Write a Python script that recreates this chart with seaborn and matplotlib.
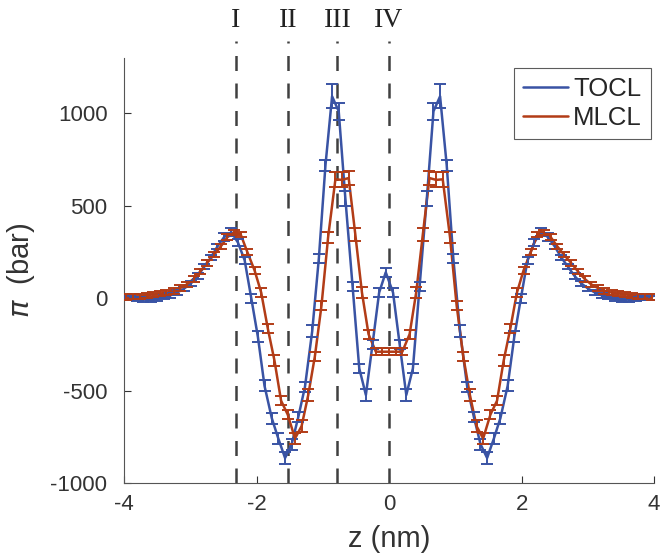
import pandas as pd
import seaborn as sns
import matplotlib.pyplot as plt

# z positions (nm) of the TOCL and MLCL profiles
z_tocl = [-4.01, -3.91, -3.81, -3.71, -3.60, -3.50, -3.40, -3.30, -3.20, -3.10,
          -2.99, -2.89, -2.79, -2.69, -2.59, -2.49, -2.38, -2.28, -2.18, -2.08,
          -1.98, -1.88, -1.77, -1.67, -1.57, -1.47, -1.37, -1.27, -1.16, -1.06,
          -0.96, -0.86, -0.76, -0.66, -0.55, -0.45, -0.35, -0.25, -0.15, -0.05,
          0.06, 0.16, 0.26, 0.36, 0.46, 0.57, 0.67, 0.77, 0.87, 0.97,
          1.07, 1.18, 1.28, 1.38, 1.48, 1.58, 1.68, 1.79, 1.89, 1.99,
          2.09, 2.19, 2.29, 2.40, 2.50, 2.60, 2.70, 2.80, 2.90, 3.01,
          3.11, 3.21, 3.31, 3.41, 3.51, 3.62, 3.72, 3.82, 3.92]
z_mlcl = [-3.97, -3.86, -3.76, -3.66, -3.56, -3.46, -3.36, -3.25, -3.15, -3.05,
          -2.95, -2.85, -2.75, -2.64, -2.54, -2.44, -2.34, -2.24, -2.14, -2.03,
          -1.93, -1.83, -1.73, -1.63, -1.53, -1.42, -1.32, -1.22, -1.12, -1.02,
          -0.92, -0.81, -0.71, -0.61, -0.51, -0.41, -0.31, -0.20, -0.10, 0.00,
          0.10, 0.20, 0.31, 0.41, 0.51, 0.61, 0.71, 0.81, 0.92, 1.02,
          1.12, 1.22, 1.32, 1.42, 1.53, 1.63, 1.73, 1.83, 1.93, 2.03,
          2.14, 2.24, 2.34, 2.44, 2.54, 2.64, 2.75, 2.85, 2.95, 3.05,
          3.15, 3.25, 3.36, 3.46, 3.56, 3.66, 3.76, 3.86, 3.97]

# lateral pressure (bar) and error bars
tocl = [0, 0, -5, -8, -10, -5, 5, 15, 30, 50,
        80, 120, 170, 220, 280, 330, 357, 300, 205, 0,
        -210, -475, -650, -762, -865, -790, -643, -481, -178, 215,
        720, 1092, 1011, 540, 61, -380, -524, -250, 30, 140,
        30, -250, -524, -380, 61, 540, 1011, 1092, 720, 215,
        -178, -481, -643, -790, -865, -762, -650, -475, -210, 0,
        205, 300, 357, 330, 280, 220, 170, 120, 80, 50,
        30, 15, 5, -5, -10, -8, -5, 0, 0]
tocl_err = [12, 12, 12, 12, 12, 12, 12, 12, 12, 12,
            15, 15, 15, 15, 15, 20, 20, 20, 20, 25,
            30, 30, 30, 30, 30, 30, 25, 25, 30, 25,
            30, 65, 45, 40, 25, 25, 30, 25, 25, 25,
            25, 25, 30, 25, 25, 40, 45, 65, 30, 25,
            30, 25, 25, 30, 30, 30, 30, 30, 30, 25,
            20, 20, 20, 20, 15, 15, 15, 15, 15, 12,
            12, 12, 12, 12, 12, 12, 12, 12, 12]

mlcl = [5, 10, 10, 15, 20, 25, 30, 40, 55, 75,
        105, 145, 190, 235, 280, 330, 355, 345, 250, 150,
        30, -165, -338, -555, -630, -760, -692, -524, -315, -40,
        330, 643, 640, 650, 346, 32, -195, -290, -290, -290,
        -290, -290, -195, 32, 346, 650, 640, 643, 330, -40,
        -315, -524, -692, -760, -630, -555, -338, -165, 30, 150,
        250, 345, 355, 330, 280, 235, 190, 145, 105, 75,
        55, 40, 30, 25, 20, 15, 10, 10, 5]
mlcl_err = [15, 15, 15, 15, 15, 15, 15, 15, 15, 15,
            15, 15, 15, 15, 15, 15, 15, 15, 15, 20,
            25, 25, 30, 25, 25, 30, 30, 30, 25, 25,
            30, 40, 40, 40, 35, 30, 25, 20, 20, 20,
            20, 20, 25, 30, 35, 40, 40, 40, 30, 25,
            25, 30, 30, 30, 25, 25, 30, 25, 25, 20,
            15, 15, 15, 15, 15, 15, 15, 15, 15, 15,
            15, 15, 15, 15, 15, 15, 15, 15, 15]

region_labels = ['I', 'II', 'III', 'IV']
region_z = [-2.31, -1.53, -0.78, 0.0]

blue = '#3953a4'
red = '#b23c17'

sns.set_style('ticks')
plt.rcParams['font.family'] = ['Liberation Sans', 'DejaVu Sans']
plt.rcParams['axes.unicode_minus'] = False

df = pd.DataFrame({'z': z_tocl + z_mlcl, 'pi': tocl + mlcl,
                   'lipid': ['TOCL'] * len(z_tocl) + ['MLCL'] * len(z_mlcl)})

fig = plt.figure(figsize=(6.6, 5.57), dpi=100)
ax = fig.add_axes([0.188, 0.133, 0.803, 0.763])

# region markers
for lab, zz in zip(region_labels, region_z):
    ax.plot([zz, zz], [-1000, 1390], ls=(0, (6, 5)), color='#404040', lw=1.8,
            clip_on=False, zorder=1)
    ax.text(zz, 1505, lab, ha='center', va='center', fontsize=20,
            family='Liberation Serif', color='#222222', clip_on=False)

sns.lineplot(data=df, x='z', y='pi', hue='lipid', hue_order=['TOCL', 'MLCL'],
             palette={'TOCL': blue, 'MLCL': red}, lw=1.8, ax=ax, zorder=3)
ax.errorbar(z_tocl, tocl, yerr=tocl_err, fmt='none', ecolor=blue, elinewidth=1.4,
            capsize=4, capthick=1.4, zorder=3)
ax.errorbar(z_mlcl, mlcl, yerr=mlcl_err, fmt='none', ecolor=red, elinewidth=1.4,
            capsize=4, capthick=1.4, zorder=3)

ax.set_xlim(-4, 4)
ax.set_ylim(-1000, 1300)
ax.set_xticks([-4, -2, 0, 2, 4])
ax.set_yticks([-1000, -500, 0, 500, 1000])
ax.tick_params(direction='in', labelsize=16, colors='#333333', length=5, width=0.8)
ax.tick_params(axis='y', pad=12)
ax.tick_params(axis='x', pad=8)
for s in ['top', 'right']:
    ax.spines[s].set_visible(False)
for s in ['left', 'bottom']:
    ax.spines[s].set_color('#555555')
    ax.spines[s].set_linewidth(0.8)

ax.set_xlabel('z (nm)', fontsize=21, color='#333333', labelpad=7)
ax.set_ylabel('$\\pi$  (bar)', fontsize=21, color='#333333', labelpad=10)

leg = ax.legend(loc='upper right', bbox_to_anchor=(0.994, 0.976), borderaxespad=0,
                fontsize=18.5, frameon=True, fancybox=False, edgecolor='#333333',
                handlelength=1.75, handletextpad=0.2, borderpad=0.35, labelspacing=0.2)
leg.get_frame().set_linewidth(0.8)

fig.savefig('out.png', dpi=100)
